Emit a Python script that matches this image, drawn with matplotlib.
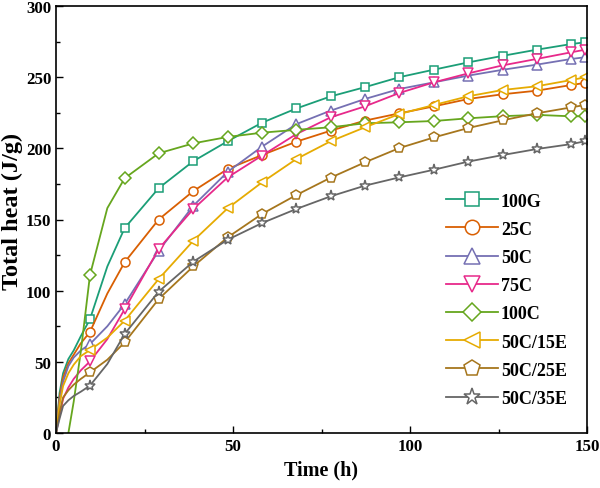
import numpy as np
import matplotlib
matplotlib.use("Agg")
import matplotlib.pyplot as plt
from matplotlib.ticker import MultipleLocator

# ---- data -------------------------------------------------------------
time_h = [0, 1, 2, 3.5, 5, 7, 9.6, 14.5, 19.4, 29.0, 38.8, 48.5, 58.2, 67.9,
          77.6, 87.3, 97.0, 106.8, 116.5, 126.2, 135.8, 145.6, 149.5]

heat_100G = [0, 28, 42, 52, 58, 68, 80, 117, 144, 172, 191, 205, 218, 228,
             236.5, 243, 250, 255.3, 260.4, 265, 269.3, 273.3, 274.5]
heat_25C = [0, 25, 39, 49, 55, 63, 71, 98, 120, 150, 170, 185.5, 195.3, 204.7,
            212.4, 219.5, 224.6, 229.5, 234.7, 238, 240.5, 244.5, 246]
heat_50C = [0, 22, 36, 47, 53, 58, 62.5, 75, 90.6, 128, 159.7, 183.5, 201.2, 217,
            226.5, 234.7, 241.7, 246.4, 251.1, 255.2, 258.8, 262.8, 264]
heat_75C = [0, 12, 24, 32, 38, 44, 50.3, 66, 87, 129.3, 157.4, 179.6, 194.9, 210,
            221.8, 229.5, 238.9, 246.4, 252.7, 258.3, 262.8, 267.5, 269.3]
heat_100C = [np.nan, np.nan, np.nan, 0, 22, 57, 111, 158, 179, 196.5, 203.5, 208, 211, 213,
             214.8, 217.6, 218.3, 219.2, 221.1, 222.6, 223.5, 222.5, 222.5]
heat_50C15E = [0, 20, 33, 42, 48, 54, 58.3, 67, 78.9, 108.2, 135.1, 157.9, 176.1, 192.5,
               205, 214.8, 224.1, 230.5, 236.6, 241, 243.6, 248, 249.9]
heat_50C25E = [0, 14, 25, 30, 34, 38, 42.6, 51.5, 63.7, 94.1, 117.1, 137.5, 153.9, 167.2,
               179.4, 190.2, 200.2, 207.7, 214.3, 219.7, 224.6, 228.8, 230.5]
heat_50C35E = [0, 10, 19, 23, 26, 29, 33.3, 48.5, 69.6, 99.3, 120.4, 135.8, 147.5, 157.4,
               166.3, 173.8, 179.6, 185, 190.7, 195.3, 199.5, 203, 205]

labels = ["100G", "25C", "50C", "75C", "100C", "50C/15E", "50C/25E", "50C/35E"]
series = [heat_100G, heat_25C, heat_50C, heat_75C, heat_100C,
          heat_50C15E, heat_50C25E, heat_50C35E]

x_ticks = [0, 50, 100, 150]
y_ticks = [0, 50, 100, 150, 200, 250, 300]

# ---- style --------------------------------------------------------------
colors = ["#1b9e77", "#d95f02", "#7570b3", "#e7298a", "#66a61e",
          "#e6ab02", "#a6761d", "#666666"]
markers = ["s", "o", "^", "v", "D", "<", "p", "*"]
msizes = [6.2, 6.5, 7, 7, 6, 7, 7.5, 8]

plt.rcParams["font.family"] = ["Liberation Serif", "DejaVu Serif"]
plt.rcParams["font.weight"] = "bold"

fig = plt.figure(figsize=(6.0, 4.89), dpi=100)
ax = fig.add_axes([56 / 600, 55 / 489, 531 / 600, 427 / 489])

mark_idx = [6] + list(range(8, len(time_h)))
for y, lab, c, m, ms in zip(series, labels, colors, markers, msizes):
    ax.plot(time_h, y, color=c, lw=1.3, marker=m, ms=ms, mfc="white",
            mec=c, mew=1.1, markevery=mark_idx, label=lab)

ax.set_xlim(0, 150)
ax.set_ylim(0, 300)
ax.set_xticks(x_ticks)
ax.set_yticks(y_ticks)
ax.xaxis.set_minor_locator(MultipleLocator(25))
ax.yaxis.set_minor_locator(MultipleLocator(25))
ax.tick_params(which="both", direction="in", top=False, right=False,
               labelsize=12.2, width=1.0)
ax.tick_params(which="major", length=5)
ax.tick_params(which="minor", length=3)
for lab in ax.get_xticklabels() + ax.get_yticklabels():
    lab.set_fontweight("bold")
for sp in ax.spines.values():
    sp.set_linewidth(1.2)

ax.set_xlabel("Time (h)", fontsize=14.5, fontweight="bold", labelpad=4)
ax.set_ylabel("Total heat (J/g)", fontsize=17.5, fontweight="bold")
ax.yaxis.set_label_coords(-0.062, 0.522)

leg = ax.legend(loc="upper left", bbox_to_anchor=(0.734, 0.563), frameon=False,
                prop={"weight": "bold", "size": 13}, handlelength=2.9,
                handletextpad=0.15, labelspacing=0.62, markerscale=1.6,
                borderpad=0, borderaxespad=0)

fig.savefig("out.png", dpi=100)
